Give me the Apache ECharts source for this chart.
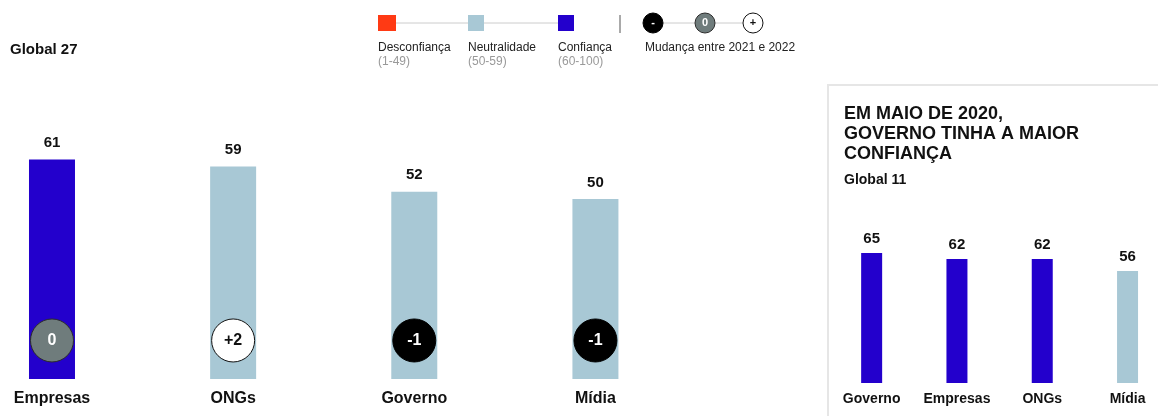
<!DOCTYPE html>
<html>
<head>
<meta charset="utf-8">
<script src="https://cdn.jsdelivr.net/npm/echarts@6/dist/echarts.min.js"></script>
<style>
  html, body { margin: 0; padding: 0; background: #fff; }
  #chart { width: 1158px; height: 416px; }
</style>
</head>
<body>
<div id="chart"></div>
<script>
// dados 2022 (Global 27)
const categories2022 = ['Empresas', 'ONGs', 'Governo', 'Mídia'];
const trust2022 = [61, 59, 52, 50];
const change2022 = [0, 2, -1, -1];

// dados maio 2020 (Global 11)
const categories2020 = ['Governo', 'Empresas', 'ONGs', 'Mídia'];
const trust2020 = [65, 62, 62, 56];

const RED = '#ff3a14';
const NEUTRAL = '#a8c8d5';
const BLUE = '#2300cc';
const FONT = '"Liberation Sans", Arial, sans-serif';

// cor por faixa de confiança
const trustColor = v => (v < 50 ? RED : v < 60 ? NEUTRAL : BLUE);

// estilo do círculo de mudança
const changeStyle = c => {
    if (c > 0) {
        return { fill: '#ffffff', border: '#111', text: '#111' };
    }
    if (c < 0) {
        return { fill: '#000000', border: '#000', text: '#fff' };
    }
    return { fill: '#6f7c7c', border: '#2b2b2b', text: '#fff' };
};

const chart = echarts.init(document.getElementById('chart'));

const legendY = 23;
const legendText = (x, y, txt, color) => ({
    type: 'text', left: x, top: y,
    style: { text: txt, fill: color, font: '12px ' + FONT }
});
const legendCircle = (x, c, sym) => {
    const s = changeStyle(c);
    return [
        {
            type: 'circle', shape: { cx: x, cy: legendY, r: 10 },
            style: { fill: s.fill, stroke: s.border, lineWidth: 1 }
        },
        {
            type: 'text', x: x, y: legendY,
            style: {
                text: sym, fill: s.text, font: 'bold 11px ' + FONT,
                align: 'center', verticalAlign: 'middle'
            }
        }
    ];
};

// eixo x numérico com rótulos nas posições das categorias
const catAxis = (gridIndex, cats, min, max, fontSize, margin) => ({
    type: 'value', gridIndex, min, max,
    axisLine: { show: false }, axisTick: { show: false }, splitLine: { show: false },
    axisLabel: {
        customValues: cats.map((c, i) => i),
        formatter: v => cats[Math.round(v)],
        margin, fontSize, fontWeight: 'bold', color: '#111', fontFamily: FONT
    }
});

const option = {
    animation: false,
    textStyle: { fontFamily: FONT },
    title: [
        {
            text: 'Global 27', left: 5, top: 37,
            textStyle: { fontSize: 15, fontWeight: 'bold', color: '#111', fontFamily: FONT }
        },
        {
            text: 'EM MAIO DE 2020,\nGOVERNO TINHA A MAIOR\nCONFIANÇA',
            left: 839, top: 99,
            textStyle: { fontSize: 18, fontWeight: 'bold', color: '#111', lineHeight: 20, fontFamily: FONT }
        },
        {
            text: 'Global 11', left: 839, top: 168,
            textStyle: { fontSize: 14, fontWeight: 'bold', color: '#111', fontFamily: FONT }
        }
    ],
    graphic: [
        // moldura do painel da direita
        {
            type: 'rect', shape: { x: 828, y: 85, width: 340, height: 345 },
            style: { fill: 'none', stroke: '#e6e6e6', lineWidth: 2 }
        },
        // legenda: faixas
        { type: 'line', shape: { x1: 387, y1: legendY, x2: 566, y2: legendY }, style: { stroke: '#cccccc', lineWidth: 1 } },
        { type: 'rect', shape: { x: 378, y: 15, width: 18, height: 16 }, style: { fill: RED } },
        { type: 'rect', shape: { x: 468, y: 15, width: 16, height: 16 }, style: { fill: NEUTRAL } },
        { type: 'rect', shape: { x: 558, y: 15, width: 16, height: 16 }, style: { fill: BLUE } },
        legendText(378, 42, 'Desconfiança', '#222'),
        legendText(378, 56, '(1-49)', '#999'),
        legendText(468, 42, 'Neutralidade', '#222'),
        legendText(468, 56, '(50-59)', '#999'),
        legendText(558, 42, 'Confiança', '#222'),
        legendText(558, 56, '(60-100)', '#999'),
        // separador
        { type: 'line', shape: { x1: 620, y1: 15, x2: 620, y2: 33 }, style: { stroke: '#555', lineWidth: 1 } },
        // legenda: mudança
        { type: 'line', shape: { x1: 653, y1: legendY, x2: 753, y2: legendY }, style: { stroke: '#cccccc', lineWidth: 1 } },
        ...legendCircle(653, -1, '-'),
        ...legendCircle(705, 0, '0'),
        ...legendCircle(753, 1, '+'),
        legendText(645, 42, 'Mudança entre 2021 e 2022', '#222')
    ],
    grid: [
        { left: 0, width: 686, top: 19, bottom: 37 },
        { left: 829, right: 0, top: 183, bottom: 33 }
    ],
    xAxis: [
        catAxis(0, categories2022, -0.287, 3.5, 16, 12),
        catAxis(1, categories2020, -0.5, 3.357, 14, 9)
    ],
    yAxis: [
        { type: 'value', gridIndex: 0, min: 0, max: 100, show: false, splitLine: { show: false } },
        { type: 'value', gridIndex: 1, min: 0, max: 100, show: false, splitLine: { show: false } }
    ],
    series: [
        {
            type: 'bar', xAxisIndex: 0, yAxisIndex: 0, barWidth: 46,
            data: trust2022.map((v, i) => ({ value: [i, v], itemStyle: { color: trustColor(v) } })),
            label: {
                show: true, position: 'top', distance: 9,
                formatter: p => p.value[1],
                fontSize: 15, fontWeight: 'bold', color: '#111', fontFamily: FONT
            }
        },
        {
            type: 'scatter', xAxisIndex: 0, yAxisIndex: 0, symbolSize: 43, z: 5,
            data: change2022.map((c, i) => {
                const s = changeStyle(c);
                return {
                    value: [i, 10.7],
                    change: c,
                    itemStyle: { color: s.fill, borderColor: s.border, borderWidth: 1, opacity: 1 },
                    label: { color: s.text }
                };
            }),
            label: {
                show: true, position: 'inside',
                formatter: p => (p.data.change > 0 ? '+' : '') + p.data.change,
                fontSize: 16, fontWeight: 'bold', fontFamily: FONT
            }
        },
        {
            type: 'bar', xAxisIndex: 1, yAxisIndex: 1, barWidth: 21,
            data: trust2020.map((v, i) => ({ value: [i, v], itemStyle: { color: trustColor(v) } })),
            label: {
                show: true, position: 'top', distance: 7,
                formatter: p => p.value[1],
                fontSize: 15, fontWeight: 'bold', color: '#111', fontFamily: FONT
            }
        }
    ]
};

chart.setOption(option);
</script>
</body>
</html>
